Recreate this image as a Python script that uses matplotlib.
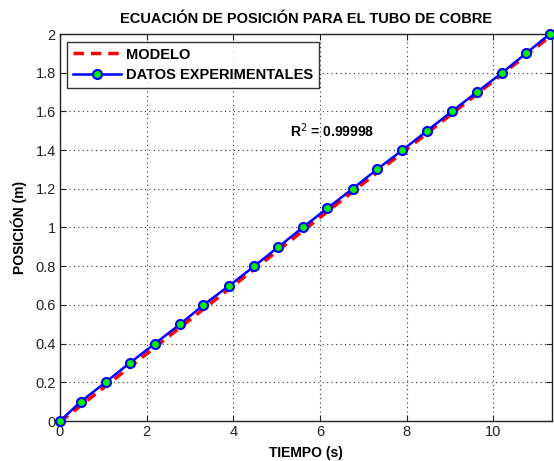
import matplotlib
matplotlib.use("Agg")
import matplotlib.pyplot as plt

# Experimental data
tiempo = [0.0, 0.48, 1.05, 1.61, 2.19, 2.77, 3.31, 3.91, 4.48, 5.04, 5.60,
          6.17, 6.75, 7.31, 7.90, 8.47, 9.04, 9.62, 10.20, 10.75, 11.30]
posicion = [0.0, 0.1, 0.2, 0.3, 0.4, 0.5, 0.6, 0.7, 0.8, 0.9, 1.0,
            1.1, 1.2, 1.3, 1.4, 1.5, 1.6, 1.7, 1.8, 1.9, 2.0]

# Model line
tiempo_modelo = [0.0, 11.35]
posicion_modelo = [-0.005, 1.995]

xticks = [0, 2, 4, 6, 8, 10]
yticks = [0, 0.2, 0.4, 0.6, 0.8, 1, 1.2, 1.4, 1.6, 1.8, 2]
ytick_labels = ["0", "0.2", "0.4", "0.6", "0.8", "1", "1.2", "1.4", "1.6", "1.8", "2"]

plt.rcParams['font.family'] = ['Liberation Sans', 'DejaVu Sans']

fig = plt.figure(figsize=(5.54, 4.61), dpi=100)
ax = fig.add_axes([60/554, 1 - 421/461, (552-60)/554, (421-34)/461])

ax.plot(tiempo_modelo, posicion_modelo, color='red', linestyle='--', linewidth=2.5,
        dashes=(3, 2), label='MODELO', zorder=3)
ax.plot(tiempo, posicion, color='blue', linestyle='-', linewidth=1.8, marker='o',
        markersize=6.5, markerfacecolor='#00ee00', markeredgecolor='blue',
        markeredgewidth=1.5, label='DATOS EXPERIMENTALES', zorder=4, clip_on=False)

ax.set_xlim(0, 11.35)
ax.set_ylim(0, 2)
ax.set_xticks(xticks)
ax.set_yticks(yticks)
ax.set_yticklabels(ytick_labels)
ax.tick_params(direction='in', top=True, right=True, labelsize=10.5, length=4,
               width=0.8, colors='#222222', pad=3)
ax.grid(True, linestyle=(0, (1, 3)), color='#333333', linewidth=0.8)
for s in ax.spines.values():
    s.set_color('#222222')
    s.set_linewidth(1.0)

ax.set_title('ECUACIÓN DE POSICIÓN PARA EL TUBO DE COBRE', fontsize=10.5,
             fontweight='bold', pad=8)
ax.set_xlabel('TIEMPO (s)', fontsize=10, fontweight='bold', labelpad=5)
ax.set_ylabel('POSICIÓN (m)', fontsize=10, fontweight='bold', labelpad=6)

ax.text(5.3, 1.5, r'R$^{2}$ = 0.99998', fontsize=10, fontweight='bold',
        va='center', ha='left')

leg = ax.legend(loc='upper left', bbox_to_anchor=(0.015, 0.98),
                prop={'weight': 'bold', 'size': 10.5}, frameon=True, fancybox=False,
                edgecolor='black', handlelength=3.3, handletextpad=0.35,
                borderpad=0.4, labelspacing=0.45, borderaxespad=0)
leg.get_frame().set_linewidth(1.0)

fig.savefig('out.png', dpi=100)
